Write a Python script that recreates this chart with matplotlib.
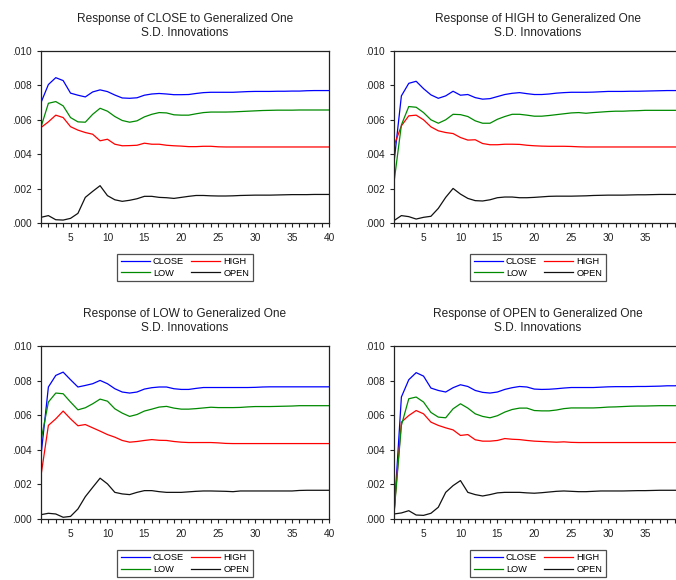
import numpy as np
import matplotlib
matplotlib.use("Agg")
import matplotlib.pyplot as plt
from matplotlib.ticker import FixedLocator, MultipleLocator, FuncFormatter

plt.rcParams['font.family'] = ['Liberation Sans', 'DejaVu Sans']

# ---------------- data (values in units of 0.001) ----------------
UNIT = 1e-3
periods = list(range(1, 41))
shock_names = ["CLOSE", "HIGH", "LOW", "OPEN"]
panel_titles = [
    "Response of CLOSE to Generalized One\nS.D. Innovations",
    "Response of HIGH to Generalized One\nS.D. Innovations",
    "Response of LOW to Generalized One\nS.D. Innovations",
    "Response of OPEN to Generalized One\nS.D. Innovations",
]

# Response of CLOSE
close_to_close = [7.00, 8.05, 8.45, 8.28, 7.55, 7.43, 7.33, 7.62, 7.74, 7.64, 7.44, 7.27, 7.25, 7.28, 7.43, 7.50, 7.53, 7.50, 7.46, 7.46,
                  7.47, 7.53, 7.58, 7.60, 7.60, 7.60, 7.60, 7.62, 7.64, 7.65, 7.65, 7.65, 7.66, 7.66, 7.67, 7.67, 7.69, 7.70, 7.70, 7.70]
close_to_high = [5.55, 5.88, 6.27, 6.13, 5.60, 5.40, 5.26, 5.16, 4.78, 4.87, 4.58, 4.49, 4.50, 4.52, 4.64, 4.58, 4.58, 4.52, 4.49, 4.47,
                 4.44, 4.44, 4.46, 4.46, 4.43, 4.42, 4.42, 4.42, 4.42, 4.42, 4.42, 4.42, 4.42, 4.42, 4.42, 4.42, 4.42, 4.42, 4.42, 4.42]
close_to_low = [5.58, 6.96, 7.06, 6.81, 6.13, 5.88, 5.86, 6.32, 6.67, 6.50, 6.19, 5.96, 5.86, 5.94, 6.17, 6.32, 6.42, 6.40, 6.29, 6.27,
                6.27, 6.35, 6.42, 6.45, 6.45, 6.45, 6.46, 6.48, 6.50, 6.52, 6.54, 6.55, 6.56, 6.56, 6.56, 6.57, 6.57, 6.57, 6.57, 6.57]
close_to_open = [0.33, 0.43, 0.19, 0.17, 0.27, 0.56, 1.49, 1.84, 2.17, 1.59, 1.35, 1.26, 1.32, 1.41, 1.55, 1.55, 1.49, 1.47, 1.43, 1.49,
                 1.55, 1.60, 1.60, 1.58, 1.57, 1.57, 1.58, 1.60, 1.61, 1.62, 1.62, 1.62, 1.63, 1.64, 1.65, 1.65, 1.65, 1.66, 1.66, 1.66]

# Response of HIGH
high_to_close = [3.52, 7.39, 8.12, 8.24, 7.81, 7.45, 7.25, 7.39, 7.66, 7.43, 7.47, 7.29, 7.20, 7.23, 7.35, 7.47, 7.54, 7.58, 7.52, 7.47,
                 7.47, 7.50, 7.55, 7.58, 7.60, 7.60, 7.60, 7.61, 7.63, 7.65, 7.65, 7.65, 7.66, 7.66, 7.67, 7.68, 7.69, 7.70, 7.70, 7.70]
high_to_high = [4.49, 5.65, 6.23, 6.27, 6.00, 5.59, 5.36, 5.26, 5.20, 4.97, 4.82, 4.84, 4.62, 4.55, 4.55, 4.58, 4.58, 4.57, 4.52, 4.49,
                4.47, 4.46, 4.46, 4.46, 4.45, 4.43, 4.42, 4.42, 4.42, 4.42, 4.42, 4.42, 4.42, 4.42, 4.42, 4.42, 4.42, 4.42, 4.42, 4.42]
high_to_low = [2.36, 5.70, 6.77, 6.73, 6.42, 6.00, 5.80, 6.00, 6.32, 6.30, 6.19, 5.94, 5.80, 5.80, 6.03, 6.19, 6.32, 6.32, 6.27, 6.21,
               6.21, 6.25, 6.30, 6.35, 6.40, 6.42, 6.38, 6.42, 6.45, 6.48, 6.50, 6.50, 6.52, 6.53, 6.55, 6.55, 6.55, 6.55, 6.55, 6.55]
high_to_open = [0.14, 0.43, 0.37, 0.23, 0.33, 0.39, 0.85, 1.49, 2.01, 1.68, 1.43, 1.30, 1.28, 1.35, 1.47, 1.51, 1.51, 1.47, 1.47, 1.49,
                1.52, 1.55, 1.56, 1.56, 1.56, 1.57, 1.58, 1.60, 1.61, 1.62, 1.62, 1.62, 1.63, 1.64, 1.64, 1.65, 1.66, 1.66, 1.66, 1.66]

# Response of LOW
low_to_close = [3.67, 7.63, 8.30, 8.49, 8.05, 7.63, 7.72, 7.82, 8.01, 7.82, 7.53, 7.34, 7.28, 7.34, 7.51, 7.59, 7.63, 7.63, 7.53, 7.49,
                7.49, 7.55, 7.60, 7.60, 7.60, 7.60, 7.60, 7.60, 7.60, 7.61, 7.63, 7.64, 7.64, 7.64, 7.64, 7.64, 7.64, 7.64, 7.64, 7.64]
low_to_high = [2.51, 5.41, 5.79, 6.24, 5.79, 5.39, 5.46, 5.27, 5.08, 4.88, 4.73, 4.54, 4.44, 4.48, 4.54, 4.59, 4.55, 4.54, 4.48, 4.44,
               4.42, 4.42, 4.42, 4.42, 4.40, 4.37, 4.36, 4.36, 4.36, 4.36, 4.36, 4.36, 4.36, 4.36, 4.36, 4.36, 4.36, 4.36, 4.36, 4.36]
low_to_low = [4.54, 6.76, 7.28, 7.24, 6.76, 6.31, 6.43, 6.66, 6.93, 6.81, 6.37, 6.12, 5.93, 6.04, 6.24, 6.35, 6.47, 6.51, 6.41, 6.35,
              6.35, 6.38, 6.42, 6.46, 6.44, 6.44, 6.44, 6.45, 6.48, 6.50, 6.50, 6.50, 6.51, 6.52, 6.53, 6.55, 6.55, 6.55, 6.55, 6.55]
low_to_open = [0.25, 0.33, 0.29, 0.10, 0.15, 0.58, 1.29, 1.83, 2.36, 2.03, 1.54, 1.45, 1.41, 1.54, 1.64, 1.64, 1.58, 1.54, 1.54, 1.54,
               1.57, 1.60, 1.62, 1.62, 1.61, 1.60, 1.58, 1.62, 1.62, 1.62, 1.62, 1.62, 1.62, 1.62, 1.62, 1.65, 1.66, 1.66, 1.66, 1.66]

# Response of OPEN
open_to_close = [0.19, 7.05, 8.05, 8.46, 8.26, 7.57, 7.43, 7.34, 7.59, 7.76, 7.66, 7.43, 7.32, 7.28, 7.34, 7.49, 7.59, 7.66, 7.63, 7.51,
                 7.49, 7.50, 7.53, 7.57, 7.60, 7.60, 7.60, 7.60, 7.62, 7.64, 7.65, 7.65, 7.65, 7.66, 7.66, 7.67, 7.68, 7.70, 7.70, 7.72]
open_to_high = [0.39, 5.60, 5.98, 6.27, 6.08, 5.60, 5.41, 5.27, 5.15, 4.83, 4.88, 4.58, 4.50, 4.50, 4.54, 4.65, 4.61, 4.59, 4.54, 4.50,
                4.48, 4.46, 4.44, 4.46, 4.43, 4.42, 4.42, 4.42, 4.42, 4.42, 4.42, 4.42, 4.42, 4.42, 4.42, 4.42, 4.42, 4.42, 4.42, 4.42]
open_to_low = [0.29, 5.41, 6.95, 7.05, 6.76, 6.16, 5.89, 5.85, 6.37, 6.66, 6.41, 6.08, 5.93, 5.85, 5.97, 6.18, 6.33, 6.41, 6.41, 6.27,
               6.25, 6.25, 6.30, 6.38, 6.42, 6.42, 6.42, 6.42, 6.44, 6.47, 6.48, 6.50, 6.52, 6.53, 6.53, 6.54, 6.55, 6.55, 6.55, 6.55]
open_to_open = [0.29, 0.35, 0.48, 0.23, 0.21, 0.33, 0.68, 1.54, 1.93, 2.22, 1.54, 1.41, 1.33, 1.41, 1.51, 1.54, 1.54, 1.54, 1.51, 1.49,
                1.52, 1.56, 1.60, 1.62, 1.60, 1.58, 1.58, 1.60, 1.62, 1.62, 1.62, 1.62, 1.63, 1.64, 1.64, 1.65, 1.66, 1.66, 1.66, 1.66]

panels = [
    {"CLOSE": close_to_close, "HIGH": close_to_high, "LOW": close_to_low, "OPEN": close_to_open},
    {"CLOSE": high_to_close, "HIGH": high_to_high, "LOW": high_to_low, "OPEN": high_to_open},
    {"CLOSE": low_to_close, "HIGH": low_to_high, "LOW": low_to_low, "OPEN": low_to_open},
    {"CLOSE": open_to_close, "HIGH": open_to_high, "LOW": open_to_low, "OPEN": open_to_open},
]

y_ticks = [0.000, 0.002, 0.004, 0.006, 0.008, 0.010]
x_major = [5, 10, 15, 20, 25, 30, 35, 40]

# ---------------- styling ----------------
colors = {"CLOSE": "#0000ff", "HIGH": "#ff0000", "LOW": "#008a00", "OPEN": "#111111"}
legend_order = ["CLOSE", "LOW", "HIGH", "OPEN"]  # column-major fill -> CLOSE/LOW, HIGH/OPEN

W, H = 676, 580
fig = plt.figure(figsize=(W / 100, H / 100), dpi=100)

ax_w = 288 / W
positions = [
    (41 / W, (H - 223) / H, ax_w, 172 / H),
    (394 / W, (H - 223) / H, ax_w, 172 / H),
    (41 / W, (H - 519) / H, ax_w, 173 / H),
    (394 / W, (H - 519) / H, ax_w, 173 / H),
]

fmt = FuncFormatter(lambda v, p: f"{v:.3f}".lstrip("0") if v >= 0 else f"{v:.3f}")

for pos, title, data in zip(positions, panel_titles, panels):
    ax = fig.add_axes(pos)
    handles = {}
    for name in shock_names:
        vals = np.array(data[name]) * UNIT
        (ln,) = ax.plot(periods, vals, color=colors[name], lw=0.9, label=name)
        handles[name] = ln
    ax.set_xlim(1, 40)
    ax.set_ylim(0, 0.010)
    ax.yaxis.set_major_locator(FixedLocator(y_ticks))
    ax.yaxis.set_major_formatter(fmt)
    ax.xaxis.set_major_locator(FixedLocator(x_major))
    ax.xaxis.set_minor_locator(MultipleLocator(1))
    ax.tick_params(axis="both", which="both", direction="out", length=3, width=0.8,
                   labelsize=7.3, colors="#222222", pad=3.5)
    ax.tick_params(axis="x", which="major", pad=4)
    for sp in ax.spines.values():
        sp.set_linewidth(0.9)
        sp.set_color("#222222")
    ax.set_title(title, fontsize=8.6, color="#222222", pad=11, linespacing=1.15)
    leg = ax.legend([handles[n] for n in legend_order], legend_order,
                    loc="upper center", bbox_to_anchor=(0.5, -0.178), ncol=2,
                    fontsize=6.7, frameon=True, fancybox=False, edgecolor="#222222",
                    handlelength=3.1, handletextpad=0.35, columnspacing=0.8,
                    labelspacing=0.3, borderpad=0.35, borderaxespad=0.0)
    leg.get_frame().set_linewidth(0.9)

fig.savefig("out.png", dpi=100)
